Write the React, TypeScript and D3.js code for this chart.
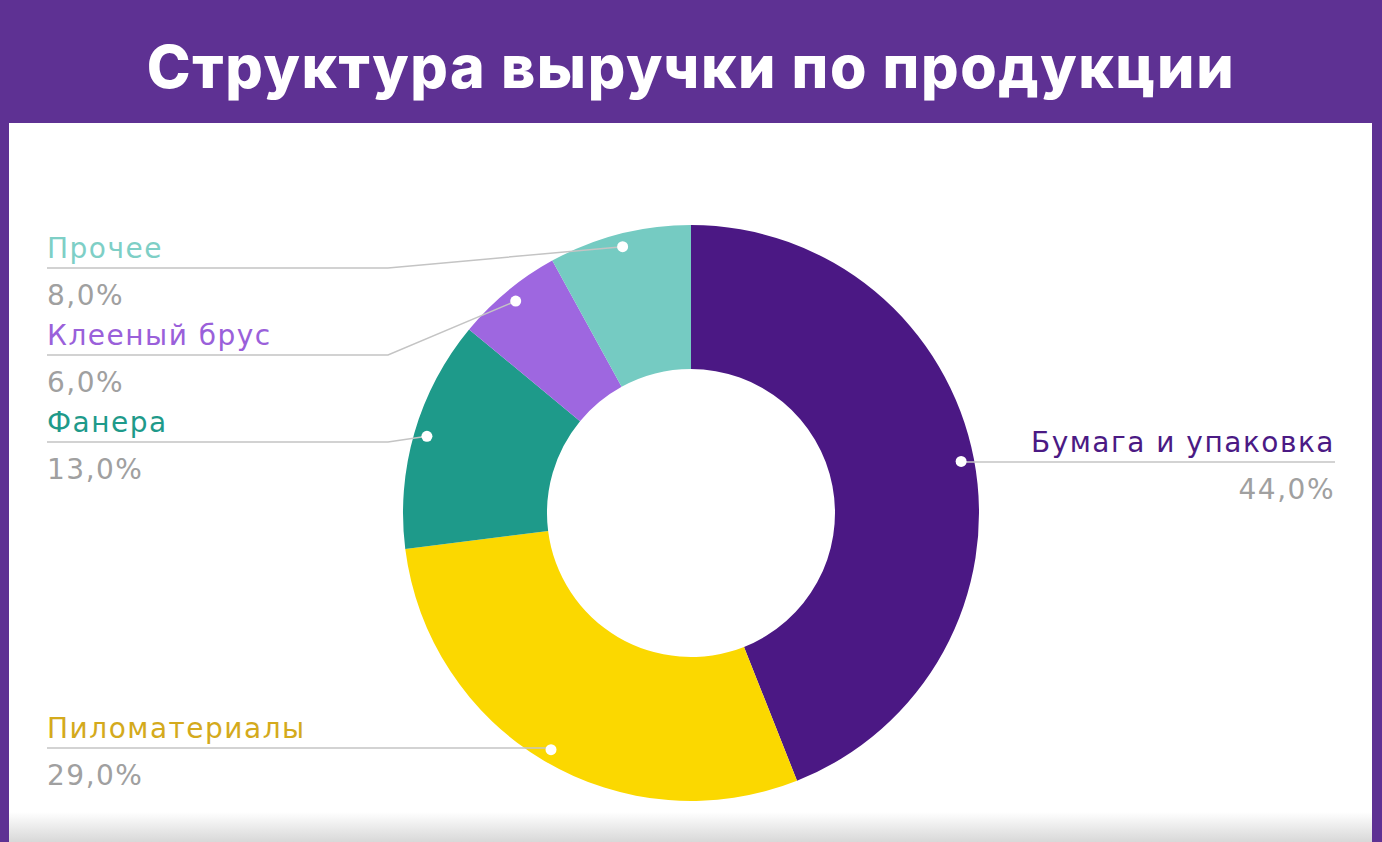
import React from "react";
import * as d3 from "d3";

// chart data
const categories = ["Бумага и упаковка", "Пиломатериалы", "Фанера", "Клееный брус", "Прочее"];
const shares = [44, 29, 13, 6, 8];
const sliceColors = ["#4B1884", "#FBD800", "#1E9A8A", "#9E67E0", "#75CBC2"];
const labelColors = ["#4B1A84", "#D4AA1C", "#1E9A8A", "#9A60DA", "#7ECFC6"];
const title = "Структура выручки по продукции";

// label placement: side, y of the underline, x of the elbow (null = straight)
const labelLayout = [
  { side: "right", lineY: 462, elbowX: null },
  { side: "left", lineY: 748, elbowX: null },
  { side: "left", lineY: 442, elbowX: 388 },
  { side: "left", lineY: 355, elbowX: 388 },
  { side: "left", lineY: 268, elbowX: 388 },
];

const W = 1382;
const H = 842;

const App = () => {
  // donut geometry
  const cx = 691;
  const cy = 513;
  const outerR = 288;
  const innerR = 144;

  const pie = d3.pie<number>().sort(null).value((d) => d);
  const arcs = pie(shares);
  const arc = d3.arc<d3.PieArcDatum<number>>().innerRadius(innerR).outerRadius(outerR);
  const dotArc = d3.arc<d3.PieArcDatum<number>>().innerRadius(275).outerRadius(275);
  const fmt = (v: number) => d3.format(".1f")(v).replace(".", ",") + "%";

  const leftX = 47;
  const rightX = 1335;
  const labelFont = "'DejaVu Sans', Verdana, sans-serif";

  return (
    <svg width={W} height={H} style={{ position: "fixed", left: 0, top: 0 }}>
      <defs>
        <linearGradient id="bottomFade" x1="0" y1="0" x2="0" y2="1">
          <stop offset="0" stopColor="#ffffff" />
          <stop offset="1" stopColor="#d8d8d8" />
        </linearGradient>
      </defs>
      {/* background and white panel */}
      <rect x={0} y={0} width={W} height={H} fill="#5E3193" />
      <rect x={9} y={123} width={1363} height={H - 123} fill="#ffffff" />
      <rect x={9} y={812} width={1363} height={30} fill="url(#bottomFade)" />
      <text
        x={W / 2}
        y={88}
        textAnchor="middle"
        fill="#ffffff"
        fontFamily="Inter, 'Open Sans', sans-serif"
        fontWeight={800}
        fontSize={59}
        letterSpacing={1.6}
      >
        {title}
      </text>

      {/* slices */}
      <g transform={`translate(${cx},${cy})`}>
        {arcs.map((a, i) => (
          <path key={categories[i]} d={arc(a) || ""} fill={sliceColors[i]} />
        ))}
      </g>

      {/* leader lines and labels */}
      {arcs.map((a, i) => {
        const [dx, dy] = dotArc.centroid(a);
        const px = cx + dx;
        const py = cy + dy;
        const lay = labelLayout[i];
        const isLeft = lay.side === "left";
        const endX = isLeft ? leftX : rightX;
        const pts: [number, number][] = [[px, py]];
        if (lay.elbowX !== null) pts.push([lay.elbowX, lay.lineY]);
        else pts[0] = [px, lay.lineY];
        pts.push([endX, lay.lineY]);
        const line = d3.line()(pts) || "";
        return (
          <g key={categories[i]}>
            <path d={line} fill="none" stroke="#c4c4c4" strokeWidth={1.5} />
            <circle cx={px} cy={py} r={5.5} fill="#ffffff" />
            <text
              x={endX}
              y={lay.lineY - 10}
              textAnchor={isLeft ? "start" : "end"}
              fill={labelColors[i]}
              fontFamily={labelFont}
              fontSize={28}
              letterSpacing={1.5}
            >
              {categories[i]}
            </text>
            <text
              x={endX}
              y={lay.lineY + 37}
              textAnchor={isLeft ? "start" : "end"}
              fill="#a0a0a0"
              fontFamily={labelFont}
              fontSize={28}
              letterSpacing={1.5}
            >
              {fmt(shares[i])}
            </text>
          </g>
        );
      })}
    </svg>
  );
};

export default App;
